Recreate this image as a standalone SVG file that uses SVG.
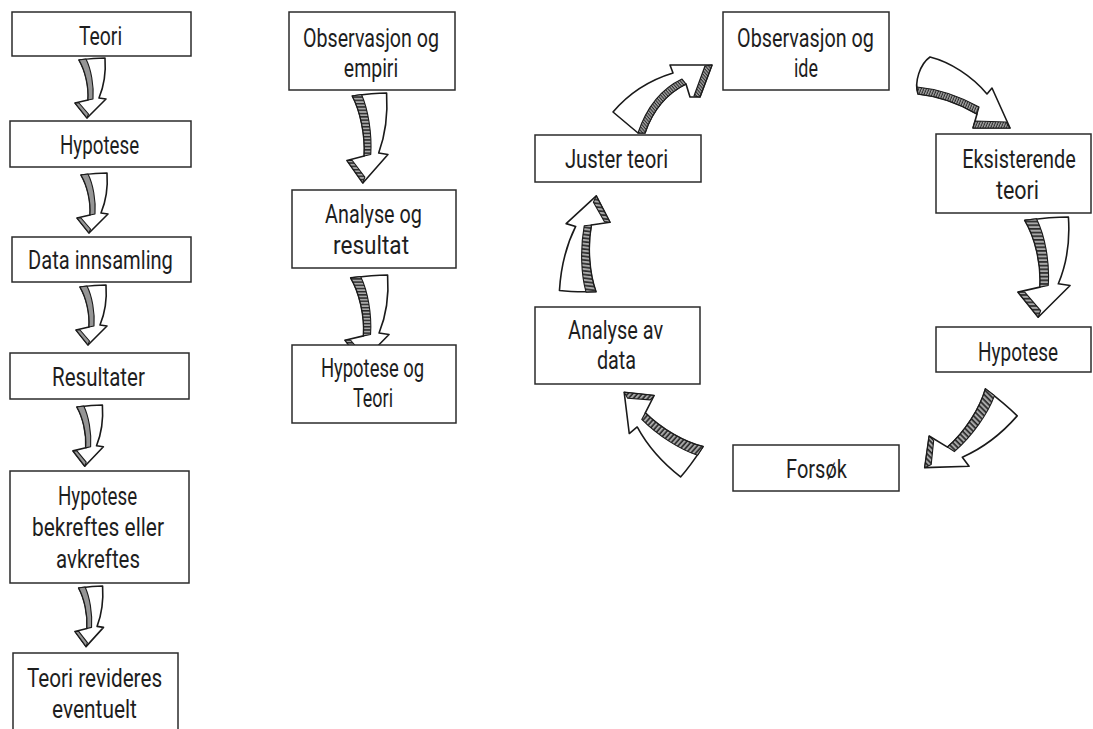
<svg xmlns="http://www.w3.org/2000/svg" xmlns:xlink="http://www.w3.org/1999/xlink" width="1093" height="729" viewBox="0 0 1093 729">
  <style>
    .box { fill: #ffffff; stroke: #2b2b2b; stroke-width: 1.5; }
    .lbl { font-family: Roboto, "Liberation Sans", sans-serif; font-size: 25px; fill: #1e1e1e; text-anchor: middle; }
    .ink { fill: #ffffff; stroke: #1a1a1a; stroke-width: 1.6; stroke-linejoin: round; }
    .side { stroke: #1a1a1a; stroke-width: 1.2; stroke-linejoin: round; }
  </style>
  <defs>
    <!-- hatching for the shaded side of the sketched ribbon arrows -->
    <pattern id="hatchH" width="10" height="2.2" patternUnits="userSpaceOnUse">
      <rect width="10" height="2.2" fill="#a8a8a8"/>
      <rect width="10" height="1" fill="#2a2a2a"/>
    </pattern>
    <pattern id="hatchA" width="10" height="2.4" patternUnits="userSpaceOnUse" patternTransform="rotate(49)">
      <rect width="10" height="2.4" fill="#a8a8a8"/>
      <rect width="10" height="1.1" fill="#2a2a2a"/>
    </pattern>
    <pattern id="hatchB" width="10" height="2.4" patternUnits="userSpaceOnUse" patternTransform="rotate(113)">
      <rect width="10" height="2.4" fill="#a8a8a8"/>
      <rect width="10" height="1.1" fill="#2a2a2a"/>
    </pattern>
    <!-- generic downward curved ribbon arrow, 31 x 60; side fill comes from the <use> -->
    <g id="dnArrow">
      <path d="M4,2 C12,1 22,0 30,0 C31,14 29,28 24,40 L31,41 L12,60 L0,45 L13,42 C14,28 10,12 4,2 Z" fill="#ffffff" stroke="#1a1a1a" stroke-width="1.6" stroke-linejoin="round" vector-effect="non-scaling-stroke"/>
      <path d="M4,2 C10,12 14,28 13,42 L18,41 C19,27 16,11 11,1 Z" stroke="#1a1a1a" stroke-width="1.1" stroke-linejoin="round" vector-effect="non-scaling-stroke"/>
      <path d="M0,45 L12,60 L13.5,56 L4,45 Z" stroke="#1a1a1a" stroke-width="1.1" stroke-linejoin="round" vector-effect="non-scaling-stroke"/>
    </g>
  </defs>

  <!-- connectors -->
  <g id="connectors">
    <!-- linear model, left column -->
    <use xlink:href="#dnArrow" fill="#959595" transform="translate(75,58)"/>
    <use xlink:href="#dnArrow" fill="#959595" transform="translate(77,173)"/>
    <use xlink:href="#dnArrow" fill="#959595" transform="translate(76,285)"/>
    <use xlink:href="#dnArrow" fill="#959595" transform="translate(73,405) scale(0.98,1.02)"/>
    <use xlink:href="#dnArrow" fill="#959595" transform="translate(75,586) scale(0.92,1.01)"/>
    <!-- inductive model, middle column -->
    <use xlink:href="#dnArrow" fill="url(#hatchH)" transform="translate(347,93) scale(1.32,1.5)"/>
    <use xlink:href="#dnArrow" fill="url(#hatchH)" transform="translate(345,275) scale(1.42,1.45)"/>
    <!-- cycle -->
    <g id="arrow-juster-obs">
      <path class="ink" d="M638,133 L613,112 C630,92 650,80 673,73 L670,65 L712,65 L700,97 L690,97 L686,84 C668,92 652,110 645,133 Z"/>
      <path class="side" fill="url(#hatchA)" d="M645,133 C653,110 668,93 686,84 L682,79 C663,88 647,106 638,133 Z"/>
      <path class="side" fill="url(#hatchA)" d="M712,65 L700,97 L694,96 L705,66 Z"/>
    </g>
    <g id="arrow-obs-eksist">
      <path class="ink" d="M930,57 C950,62 972,76 987,94 L992,88 L1010,128 L973,128 L977,114 C958,103 938,96 918,94 C914,82 920,64 930,57 Z"/>
      <path class="side" fill="url(#hatchB)" d="M918,94 C938,96 958,103 977,114 L979,107 C959,96 939,89 917,87 Z"/>
      <path class="side" fill="url(#hatchB)" d="M973,128 L1010,128 L1006,122 L975,121 Z"/>
    </g>
    <use xlink:href="#dnArrow" fill="url(#hatchH)" transform="translate(1018,217) scale(1.68,1.67)"/>
    <use xlink:href="#dnArrow" fill="url(#hatchH)" transform="translate(963,435) rotate(45) scale(1.6,1.7) translate(-14.5,-30.5)"/>
    <use xlink:href="#dnArrow" fill="url(#hatchH)" transform="translate(658,427) rotate(131.5) scale(1.45,1.64) translate(-14.5,-30.5)"/>
    <use xlink:href="#dnArrow" fill="url(#hatchH)" transform="translate(587,243.5) rotate(186.9) scale(1.4,1.64) translate(-14.5,-30.5)"/>
  </g>

  <!-- labels are set in a condensed style: horizontally scaled by 0.8 -->
  <!-- linear model -->
  <g id="n-teori">
    <rect class="box" x="12" y="12" width="179" height="44"/>
    <text class="lbl" transform="translate(100.5,45) scale(0.8,1)" textLength="54" lengthAdjust="spacingAndGlyphs">Teori</text>
  </g>
  <g id="n-hypotese">
    <rect class="box" x="10" y="121" width="181" height="46"/>
    <text class="lbl" transform="translate(99.5,154) scale(0.8,1)" textLength="99" lengthAdjust="spacingAndGlyphs">Hypotese</text>
  </g>
  <g id="n-data">
    <rect class="box" x="12" y="237" width="179" height="45"/>
    <text class="lbl" transform="translate(100.5,269) scale(0.8,1)" textLength="181" lengthAdjust="spacingAndGlyphs">Data innsamling</text>
  </g>
  <g id="n-resultater">
    <rect class="box" x="10" y="353" width="179" height="46"/>
    <text class="lbl" transform="translate(98.5,386) scale(0.8,1)" textLength="116" lengthAdjust="spacingAndGlyphs">Resultater</text>
  </g>
  <g id="n-bekreftes">
    <rect class="box" x="10" y="471" width="179" height="112"/>
    <text class="lbl" transform="translate(97.5,505) scale(0.8,1)" textLength="99" lengthAdjust="spacingAndGlyphs">Hypotese</text>
    <text class="lbl" transform="translate(98,536) scale(0.8,1)" textLength="165" lengthAdjust="spacingAndGlyphs">bekreftes eller</text>
    <text class="lbl" transform="translate(98,568) scale(0.8,1)" textLength="105" lengthAdjust="spacingAndGlyphs">avkreftes</text>
  </g>
  <g id="n-revideres">
    <rect class="box" x="13" y="653" width="165" height="90"/>
    <text class="lbl" transform="translate(94.5,687) scale(0.8,1)" textLength="169" lengthAdjust="spacingAndGlyphs">Teori revideres</text>
    <text class="lbl" transform="translate(94.5,718) scale(0.8,1)" textLength="106" lengthAdjust="spacingAndGlyphs">eventuelt</text>
  </g>

  <!-- inductive model -->
  <g id="n-obs-empiri">
    <rect class="box" x="289" y="12" width="166" height="78"/>
    <text class="lbl" transform="translate(371,47) scale(0.8,1)" textLength="170" lengthAdjust="spacingAndGlyphs">Observasjon og</text>
    <text class="lbl" transform="translate(371,77) scale(0.8,1)" textLength="68" lengthAdjust="spacingAndGlyphs">empiri</text>
  </g>
  <g id="n-analyse-res">
    <rect class="box" x="292" y="190" width="164" height="78"/>
    <text class="lbl" transform="translate(373.5,223) scale(0.8,1)" textLength="121" lengthAdjust="spacingAndGlyphs">Analyse og</text>
    <text class="lbl" transform="translate(371,254) scale(0.8,1)" textLength="95" lengthAdjust="spacingAndGlyphs">resultat</text>
  </g>
  <g id="n-hyp-teori">
    <rect class="box" x="292" y="345" width="164" height="78"/>
    <text class="lbl" transform="translate(372.5,377) scale(0.8,1)" textLength="129" lengthAdjust="spacingAndGlyphs">Hypotese og</text>
    <text class="lbl" transform="translate(373,407) scale(0.8,1)" textLength="50" lengthAdjust="spacingAndGlyphs">Teori</text>
  </g>

  <!-- research cycle -->
  <g id="n-obs-ide">
    <rect class="box" x="723" y="12" width="166" height="78"/>
    <text class="lbl" transform="translate(805.5,47) scale(0.8,1)" textLength="171" lengthAdjust="spacingAndGlyphs">Observasjon og</text>
    <text class="lbl" transform="translate(806,77) scale(0.8,1)" textLength="30" lengthAdjust="spacingAndGlyphs">ide</text>
  </g>
  <g id="n-eksisterende">
    <rect class="box" x="936" y="134" width="155" height="79"/>
    <text class="lbl" transform="translate(1019,168) scale(0.8,1)" textLength="142" lengthAdjust="spacingAndGlyphs">Eksisterende</text>
    <text class="lbl" transform="translate(1017.5,199) scale(0.8,1)" textLength="54" lengthAdjust="spacingAndGlyphs">teori</text>
  </g>
  <g id="n-hypotese-c">
    <rect class="box" x="936" y="327" width="155" height="45"/>
    <text class="lbl" transform="translate(1018,361) scale(0.8,1)" textLength="100" lengthAdjust="spacingAndGlyphs">Hypotese</text>
  </g>
  <g id="n-forsok">
    <rect class="box" x="733" y="445" width="166" height="46"/>
    <text class="lbl" transform="translate(816.5,478) scale(0.8,1)" textLength="76" lengthAdjust="spacingAndGlyphs">Forsøk</text>
  </g>
  <g id="n-analyse-data">
    <rect class="box" x="535" y="307" width="165" height="77"/>
    <text class="lbl" transform="translate(615.5,339) scale(0.8,1)" textLength="119" lengthAdjust="spacingAndGlyphs">Analyse av</text>
    <text class="lbl" transform="translate(616.5,369) scale(0.8,1)" textLength="49" lengthAdjust="spacingAndGlyphs">data</text>
  </g>
  <g id="n-juster">
    <rect class="box" x="535" y="135" width="166" height="47"/>
    <text class="lbl" transform="translate(616.5,168) scale(0.8,1)" textLength="129" lengthAdjust="spacingAndGlyphs">Juster teori</text>
  </g>
</svg>
